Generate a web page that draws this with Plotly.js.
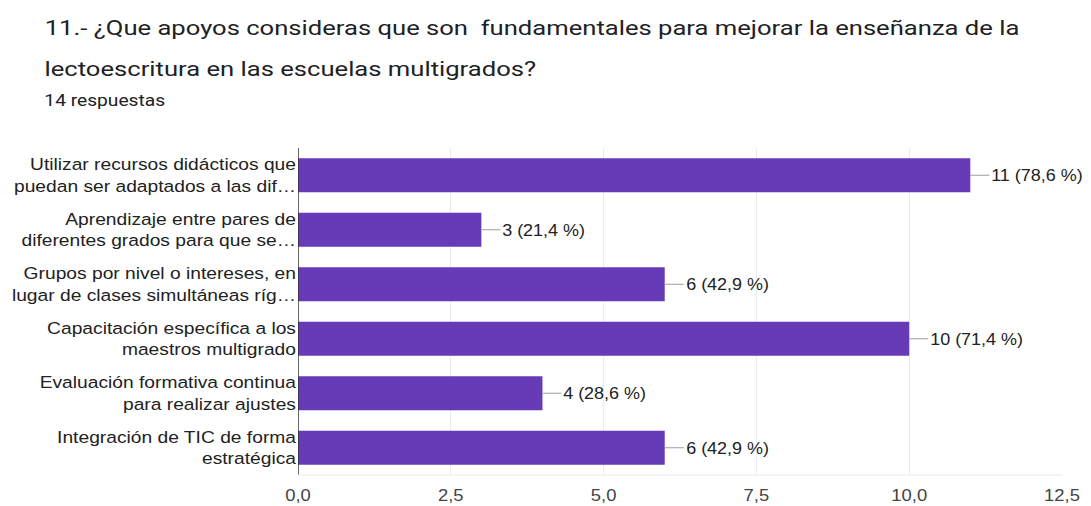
<!DOCTYPE html>
<html><head><meta charset="utf-8">
<script src="https://cdn.plot.ly/plotly-3.0.1.min.js"></script>
<style>html,body{margin:0;padding:0;background:#fff}#chart{width:1091px;height:506px}</style>
</head><body><div id="chart"></div>
<script>
const categories = [
  "Utilizar recursos didácticos que<br>puedan ser adaptados a las dif…",
  "Aprendizaje entre pares de<br>diferentes grados para que se…",
  "Grupos por nivel o intereses, en<br>lugar de clases simultáneas ríg…",
  "Capacitación específica a los<br>maestros multigrado",
  "Evaluación formativa continua<br>para realizar ajustes",
  "Integración de TIC de forma<br>estratégica"
];
const counts = [11, 3, 6, 10, 4, 6];
const totalResponses = 14;
const xTicks = [0, 2.5, 5, 7.5, 10, 12.5];
const titleLine1 = "11.- ¿Que apoyos consideras que son  fundamentales para mejorar la enseñanza de la";
const titleLine2 = "lectoescritura en las escuelas multigrados?";
const subtitle = "14 respuestas";

const ids = categories.map((c, i) => i);
const labels = counts.map(v => v + " (" + (v / totalResponses * 100).toFixed(1).replace(".", ",") + " %)");
const ARIAL = "Arial, 'Liberation Sans', sans-serif";
const ROBOTO = "Roboto, Arial, sans-serif";
const PW = 764, PH = 327;
const tx = (42 - 298) / PW;

const trace = {
  type: "bar", orientation: "h",
  x: counts, y: ids,
  marker: {color: "#673ab7", line: {color: "#673ab7", width: 0}},
  width: 0.62,
  hoverinfo: "none"
};

const annotations = counts.map((v, i) => ({
  x: v, y: i, xref: "x", yref: "y",
  text: labels[i], showarrow: true, arrowhead: 0, arrowwidth: 1, arrowcolor: "#9e9e9e",
  ax: 19, ay: 0, xanchor: "left", yanchor: "middle",
  font: {family: ARIAL, size: 16.5, color: "#222"}
}));
annotations.push(
  {xref: "paper", yref: "paper", x: tx, y: 1 + (148-28)/PH, xanchor: "left", yanchor: "middle", showarrow: false,
   text: titleLine1, font: {family: ROBOTO, size: 21, color: "#202124"}},
  {xref: "paper", yref: "paper", x: tx, y: 1 + (148-69)/PH, xanchor: "left", yanchor: "middle", showarrow: false,
   text: titleLine2, font: {family: ROBOTO, size: 21, color: "#202124"}},
  {xref: "paper", yref: "paper", x: tx, y: 1 + (148-101)/PH, xanchor: "left", yanchor: "middle", showarrow: false,
   text: subtitle, font: {family: ROBOTO, size: 16, color: "#202124"}}
);
const annStretch = [1.09, 1.09, 1.09, 1.09, 1.09, 1.09, 1.22, 1.22, 1.2];

const layout = {
  width: 1091, height: 506,
  margin: {l: 298, r: 29, t: 148, b: 31, pad: 0},
  paper_bgcolor: "#fff", plot_bgcolor: "#fff",
  separators: ",.",
  showlegend: false,
  xaxis: {
    range: [0, 12.5], tickvals: xTicks, tickformat: ".1f",
    showgrid: true, gridcolor: "#ebebeb", gridwidth: 1,
    zeroline: false, showline: false, ticks: "", ticklen: 0,
    ticklabelstandoff: 9,
    tickfont: {family: ARIAL, size: 16, color: "#444"},
    fixedrange: true
  },
  yaxis: {
    range: [5.5, -0.5], tickvals: ids, ticktext: categories,
    showgrid: false, zeroline: false,
    showline: false, ticks: "", ticklen: 0,
    ticklabelstandoff: 1,
    tickfont: {family: ARIAL, size: 16.5, color: "#222"},
    fixedrange: true
  },
  shapes: [
    {type: "line", xref: "x", yref: "paper", x0: 0, x1: 0, y0: 0, y1: 1, line: {color: "#333", width: 1.5}},
    {type: "line", xref: "paper", yref: "paper", x0: 0, x1: 1, y0: 0, y1: 0, line: {color: "#ebebeb", width: 1}}
  ],
  annotations: annotations
};

function stretch(el, sx, origin) {
  el.style.transformBox = "fill-box";
  el.style.transformOrigin = origin + " center";
  el.style.transform = "scaleX(" + sx + ")";
}

Plotly.newPlot("chart", [trace], layout, {displayModeBar: false, staticPlot: true}).then(gd => {
  gd.querySelectorAll("g.ytick").forEach(g => stretch(g, 1.165, "right"));
  gd.querySelectorAll("g.xtick").forEach(g => stretch(g, 1.15, "center"));
  gd.querySelectorAll("g.annotation").forEach(a => {
    const i = +a.getAttribute("data-index");
    const t = a.querySelector("g.annotation-text-g");
    if (t && annStretch[i]) stretch(t, annStretch[i], "left");
  });
});
</script></body></html>
